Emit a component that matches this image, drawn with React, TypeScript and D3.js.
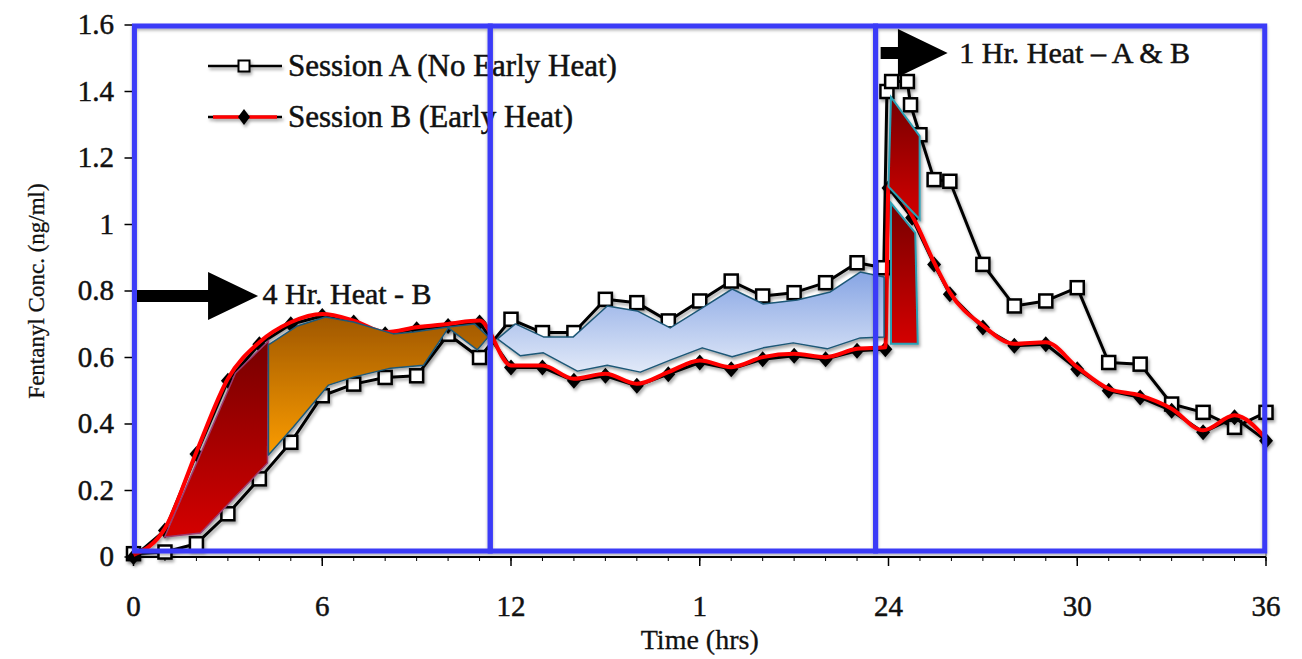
import React from 'react';
import * as d3 from 'd3';

// hours after patch application
const timeA = [0, 1, 2, 3, 4, 5, 6, 7, 8, 9, 10, 11, 12, 13, 14, 15, 16, 17, 18, 19, 20, 21, 22, 23,
  23.85, 23.95, 24.1, 24.6, 24.7, 25, 25.45, 25.95, 27, 28, 29, 30, 31, 32, 33, 34, 35, 36];
const concA = [0.01, 0.015, 0.04, 0.13, 0.235, 0.345, 0.485, 0.52, 0.54, 0.545, 0.67, 0.6, 0.715, 0.675,
  0.675, 0.775, 0.765, 0.71, 0.77, 0.83, 0.785, 0.795, 0.825, 0.885,
  0.87, 1.4, 1.43, 1.43, 1.36, 1.27, 1.135, 1.13, 0.88, 0.755, 0.77, 0.81, 0.585, 0.58, 0.46, 0.435, 0.39, 0.435];

const timeB = [0, 1, 2, 3, 4, 5, 6, 7, 8, 9, 10, 11, 12, 13, 14, 15, 16, 17, 18, 19, 20, 21, 22, 23,
  23.9, 24.0, 24.75, 25.45, 25.95, 27, 28, 29, 30, 31, 32, 33, 34, 35, 36];
const concB = [0, 0.08, 0.31, 0.53, 0.64, 0.7, 0.725, 0.705, 0.67, 0.685, 0.695, 0.705, 0.57, 0.57,
  0.53, 0.545, 0.515, 0.55, 0.585, 0.565, 0.595, 0.605, 0.595, 0.62,
  0.625, 1.11, 1.02, 0.88, 0.79, 0.69, 0.635, 0.64, 0.565, 0.5, 0.48, 0.44, 0.375, 0.42, 0.35];

const xTicks = [0, 6, 12, 18, 24, 30, 36];
const xTickLabels = ['0', '6', '12', '1', '24', '30', '36'];
const yTicks = [0, 0.2, 0.4, 0.6, 0.8, 1, 1.2, 1.4, 1.6];
const yTickLabels = ['0', '0.2', '0.4', '0.6', '0.8', '1', '1.2', '1.4', '1.6'];

// shaded difference areas, [hour, conc]
const redArea = [[0.99, 0.06], [2.13, 0.072], [4.26, 0.283], [4.29, 0.65], [3.24, 0.553]];
const orangeArea = [[4.29, 0.638], [5.21, 0.695], [6.1, 0.722], [6.99, 0.707], [8.26, 0.671], [8.9, 0.677],
  [10.01, 0.692], [10.84, 0.701], [11.28, 0.662], [10.93, 0.623], [10.01, 0.689], [9.22, 0.577],
  [8.17, 0.568], [6.99, 0.541], [6.2, 0.517], [5.08, 0.391], [4.29, 0.307]];
const blueArea = [[11.57, 0.656], [12.14, 0.701], [13.03, 0.662], [13.98, 0.662], [15.06, 0.755], [16.01, 0.74],
  [17.06, 0.689], [18.08, 0.749], [19.03, 0.806], [20.02, 0.761], [21.1, 0.773], [22.15, 0.797],
  [23.1, 0.857], [23.86, 0.842], [23.86, 0.662], [23.1, 0.659], [22.05, 0.626], [20.97, 0.644],
  [20.02, 0.629], [19.03, 0.602], [18.08, 0.629], [17.06, 0.592], [16.11, 0.556], [15.06, 0.577],
  [14.11, 0.559], [13.03, 0.614], [12.3, 0.605]];
const spikeUpper = [[24.08, 1.383], [24.99, 1.266], [24.99, 1.016], [24.0, 1.114]];
const spikeLower = [[24.08, 1.064], [24.85, 0.975], [24.93, 0.641], [24.08, 0.641]];

// phase boxes (hours)
const phaseStart = [0.03, 11.34, 23.59];
const phaseEnd = [11.34, 23.59, 35.96];

const arrowLabels = ['4 Hr. Heat - B', '1 Hr. Heat \u2013 A & B'];
const arrowFrom = [0.1, 23.75];
const arrowBase = [2.37, 24.3];
const arrowTip = [3.96, 25.88];
const arrowLevel = [0.785, 1.516];
const labelAt = [[4.1, 0.762], [26.25, 1.486]];

const FONT = '"Liberation Serif", "Times New Roman", serif';

export default function App() {
  const width = 1302;
  const height = 659;
  const x = d3.scaleLinear().domain([0, 36]).range([133.5, 1266]);
  const y = d3.scaleLinear().domain([0, 1.6]).range([557, 25]);

  const ptsA = timeA.map((t, i) => [t, concA[i]]);
  const ptsB = timeB.map((t, i) => [t, concB[i]]);

  const line = d3.line().x((d) => x(d[0])).y((d) => y(d[1]));
  const smooth = d3.line().x((d) => x(d[0])).y((d) => y(d[1])).curve(d3.curveMonotoneX);
  const poly = (pts) => line(pts) + 'Z';

  const diamond = (cx, cy, w, h) => `M${cx},${cy - h}L${cx + w},${cy}L${cx},${cy + h}L${cx - w},${cy}Z`;
  const txt = { fontFamily: FONT, fill: '#111', stroke: '#111', strokeWidth: 0.5 };

  return (
    <div style={{ position: 'absolute', left: 0, top: 0 }}>
      <svg width={width} height={height} style={{ display: 'block', background: '#fff' }}>
        <defs>
          <filter id="shadow" x="-10%" y="-10%" width="120%" height="130%">
            <feDropShadow dx="1.5" dy="2.5" stdDeviation="1.6" floodColor="#000" floodOpacity="0.35" />
          </filter>
          <filter id="boxShadow" x="-5%" y="-5%" width="110%" height="110%">
            <feDropShadow dx="0" dy="2" stdDeviation="1.5" floodColor="#000" floodOpacity="0.3" />
          </filter>
          <linearGradient id="redGrad" x1="0" y1="0" x2="0" y2="1">
            <stop offset="0" stopColor="#760000" />
            <stop offset="1" stopColor="#d40000" />
          </linearGradient>
          <linearGradient id="orangeGrad" x1="0" y1="0" x2="0" y2="1">
            <stop offset="0" stopColor="#a05800" />
            <stop offset="1" stopColor="#fb9c00" />
          </linearGradient>
          <linearGradient id="blueGrad" x1="0" y1="0" x2="0" y2="1">
            <stop offset="0" stopColor="#87a5e4" />
            <stop offset="1" stopColor="#e1e9f8" />
          </linearGradient>
        </defs>

        {/* plot frame */}
        <rect x={x(0)} y={y(1.6)} width={x(36) - x(0)} height={y(0) - y(1.6)} fill="none" stroke="#555" strokeWidth={1} />

        {/* y axis */}
        <line x1={x(0)} x2={x(0)} y1={y(0)} y2={y(1.6)} stroke="#000" strokeWidth={1.5} />
        {yTicks.map((v, i) => (
          <g key={'y' + i}>
            <line x1={x(0) - 9} x2={x(0)} y1={y(v)} y2={y(v)} stroke="#000" strokeWidth={1.5} />
            <text x={114} y={y(v) + 9} textAnchor="end" fontSize={29} {...txt}>
              {yTickLabels[i]}
            </text>
          </g>
        ))}
        <text transform={`translate(44,${y(0.8)}) rotate(-90)`} textAnchor="middle" fontSize={23} {...txt} strokeWidth={0.3}>
          Fentanyl Conc. (ng/ml)
        </text>

        {/* x axis */}
        <line x1={x(0)} x2={x(36)} y1={y(0)} y2={y(0)} stroke="#000" strokeWidth={2} />
        {d3.range(0, 37).map((t) => (
          <line key={'m' + t} x1={x(t)} x2={x(t)} y1={y(0)} y2={y(0) + 4} stroke="#000" strokeWidth={1} />
        ))}
        {xTicks.map((t, i) => (
          <g key={'x' + i}>
            <line x1={x(t)} x2={x(t)} y1={y(0)} y2={y(0) + 9} stroke="#000" strokeWidth={1.5} />
            <text x={x(t)} y={616} textAnchor="middle" fontSize={29} {...txt}>
              {xTickLabels[i]}
            </text>
          </g>
        ))}
        <text x={x(18)} y={649} textAnchor="middle" fontSize={28} {...txt} strokeWidth={0.3}>
          Time (hrs)
        </text>

        {/* session A */}
        <g filter="url(#shadow)">
          <path d={line(ptsA)} fill="none" stroke="#000" strokeWidth={3} strokeLinejoin="round" />
          {ptsA.map((d, i) => (
            <rect key={'a' + i} x={x(d[0]) - 6.5} y={y(d[1]) - 6.5} width={13} height={13} fill="#fff" stroke="#000" strokeWidth={2.5} />
          ))}
        </g>

        {/* session B */}
        <g filter="url(#shadow)">
          <path d={line(ptsB)} fill="none" stroke="#000" strokeWidth={3} strokeLinejoin="round" />
          {ptsB.map((d, i) => (
            <path key={'b' + i} d={diamond(x(d[0]), y(d[1]), 7, 8)} fill="#000" />
          ))}
          <path d={smooth(ptsB)} fill="none" stroke="#ff0000" strokeWidth={4} transform="translate(0,-2)" />
        </g>

        {/* shaded areas */}
        <g filter="url(#shadow)">
          <path d={poly(redArea)} fill="url(#redGrad)" stroke="#9a3b6e" strokeWidth={1.5} />
          <path d={poly(orangeArea)} fill="url(#orangeGrad)" stroke="#1e5877" strokeWidth={1.5} strokeLinejoin="round" />
          <path d={poly(blueArea)} fill="url(#blueGrad)" stroke="#1e5877" strokeWidth={1.5} strokeLinejoin="round" />
          <path d={poly(spikeUpper)} fill="url(#redGrad)" stroke="#2a9fb3" strokeWidth={2} />
          <path d={poly(spikeLower)} fill="url(#redGrad)" stroke="#2a9fb3" strokeWidth={2} />
        </g>

        {/* heat arrows */}
        {arrowLabels.map((lab, i) => {
          const yy = y(arrowLevel[i]);
          const shaft = `M${x(arrowFrom[i])},${yy - 6}L${x(arrowBase[i])},${yy - 6}L${x(arrowBase[i])},${yy - 24}` +
            `L${x(arrowTip[i])},${yy}L${x(arrowBase[i])},${yy + 24}L${x(arrowBase[i])},${yy + 6}L${x(arrowFrom[i])},${yy + 6}Z`;
          return (
            <g key={'ar' + i}>
              <path d={shaft} fill="#000" />
              <text x={x(labelAt[i][0])} y={y(labelAt[i][1])} fontSize={30} {...txt}>
                {lab}
              </text>
            </g>
          );
        })}

        {/* legend */}
        <g filter="url(#shadow)">
          <line x1={208} x2={282} y1={66} y2={66} stroke="#000" strokeWidth={2.5} />
          <rect x={238.5} y={60.5} width={11} height={11} fill="#fff" stroke="#000" strokeWidth={2} />
          <line x1={208} x2={282} y1={117} y2={117} stroke="#000" strokeWidth={2.5} />
          <line x1={213} x2={277} y1={117} y2={117} stroke="#ff0000" strokeWidth={3.5} />
          <path d={diamond(244, 117, 6, 8)} fill="#000" />
        </g>
        <text x={288} y={76} fontSize={31} {...txt}>Session A (No Early Heat)</text>
        <text x={288} y={127} fontSize={31} {...txt}>Session B (Early Heat)</text>

        {/* phase boxes */}
        <g filter="url(#boxShadow)">
          {phaseStart.map((s, i) => (
            <rect key={'p' + i} x={x(s)} y={y(1.597)} width={x(phaseEnd[i]) - x(s)} height={y(0.018) - y(1.597)}
              fill="none" stroke="#3b3bf7" strokeWidth={5} />
          ))}
        </g>
      </svg>
    </div>
  );
}
